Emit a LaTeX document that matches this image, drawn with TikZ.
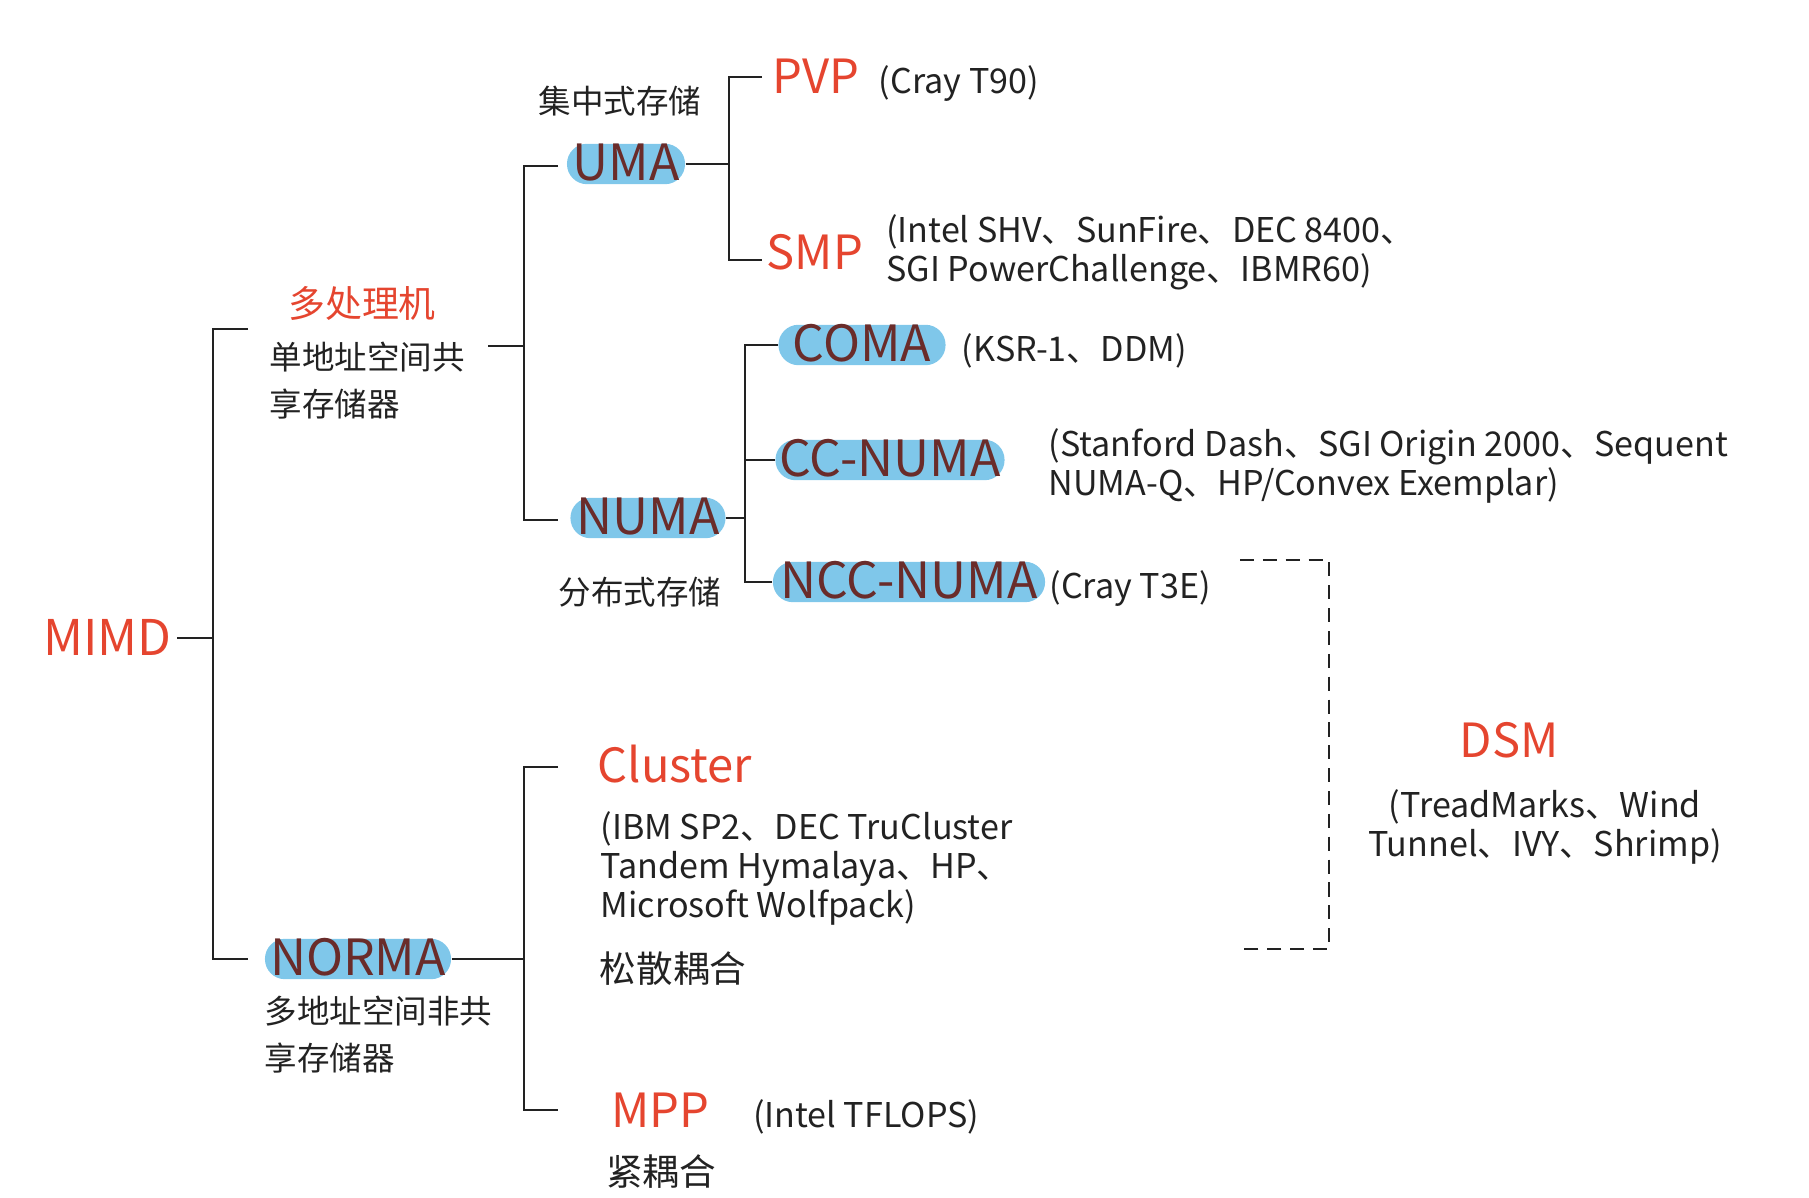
\documentclass[tikz,border=0pt]{standalone}
\usepackage{fontspec}
\setmainfont{Noto Sans CJK SC}
\usetikzlibrary{positioning}
\definecolor{mRed}{HTML}{E5452F}
\definecolor{mBlue}{HTML}{7FC7EA}
\definecolor{mBrown}{HTML}{6A2C2A}
\definecolor{mDark}{HTML}{222222}
\tikzset{
  tree/.style={line width=0.6pt, draw=mDark},
  dsmline/.style={line width=0.5pt, draw=mDark, dash pattern=on 4pt off 2.5pt},
  rlabel/.style={text=mRed, font=\fontsize{13.4}{16}\selectfont, inner sep=0pt},
  pill/.style={rectangle, rounded corners=5.7pt, fill=mBlue, text=mBrown, font=\fontsize{14.2}{17}\selectfont, text height=9.4pt, text depth=0pt, inner xsep=0pt, inner ysep=1.05pt},
  note/.style={text=mDark, font=\fontsize{9.7}{11.1}\selectfont, align=left, inner sep=0pt},
  cnote/.style={text=mDark, font=\fontsize{9.25}{13.4}\selectfont, align=left, inner sep=0pt},
  cnred/.style={text=mRed, font=\fontsize{10.5}{12}\selectfont, inner sep=0pt},
  cbig/.style={text=mDark, font=\fontsize{10.4}{12}\selectfont, inner sep=0pt}
}

\begin{document}
\begin{tikzpicture}[x=0.01cm, y=-0.01cm]
  \useasboundingbox (0,0) rectangle (1809,1198);

  % root
  \node[rlabel, font=\fontsize{14}{16}\selectfont, anchor=base east] (mimd) at (172,656) {MIMD};

  % shared address space
  \node[cnred] (mp) at (362,303) {多处理机};
  \node[cnote, anchor=west] (mpdesc) at (269,381) {单地址空间共\\享存储器};
  \node[pill, minimum width=1.18cm] (uma) at (626,164) {UMA};
  \node[cnote] (umadesc) at (620,101) {集中式存储};
  \node[rlabel, anchor=base west] (pvp) at (772,94) {PVP};
  \node[note, right=0.18cm of pvp.base east, anchor=base west] (pvpnote) {(Cray T90)};
  \node[rlabel, anchor=base west] (smp) at (766,270) {SMP};
  \node[note, right=0.22cm of smp] (smpnote) {(Intel SHV、SunFire、DEC 8400、\\SGI PowerChallenge、IBMR60)};
  \node[pill, minimum width=1.55cm] (numa) at (648,518) {NUMA};
  \node[cnote] (numadesc) at (640,592) {分布式存储};
  \node[pill, minimum width=1.67cm] (coma) at (862,345) {COMA};
  \node[note, right=0.15cm of coma.base east, anchor=base west] (comanote) {(KSR-1、DDM)};
  \node[pill, minimum width=2.29cm] (ccnuma) at (890,460) {CC-NUMA};
  \node[note, anchor=west] (ccnote) at (1048,466) {(Stanford Dash、SGI Origin 2000、Sequent\\NUMA-Q、HP/Convex Exemplar)};
  \node[pill, minimum width=2.72cm] (ncc) at (909,582) {NCC-NUMA};
  \node[note, right=0.03cm of ncc.base east, anchor=base west] (nccnote) {(Cray T3E)};

  % distributed address space
  \node[pill, minimum width=1.86cm] (norma) at (358,959) {NORMA};
  \node[cnote, anchor=west] (normadesc) at (264,1035) {多地址空间非共\\享存储器};
  \node[rlabel, anchor=base west] (cluster) at (597,783) {Cluster};
  \node[note, anchor=west] (clusternote) at (600,868) {(IBM SP2、DEC TruCluster\\Tandem Hymalaya、HP、\\Microsoft Wolfpack)};
  \node[cbig] (loose) at (673,969) {松散耦合};
  \node[rlabel, anchor=base west] (mpp) at (611,1127) {MPP};
  \node[note, right=0.42cm of mpp.base east, anchor=base west] (mppnote) {(Intel TFLOPS)};
  \node[cbig] (tight) at (661,1172) {紧耦合};

  % DSM
  \node[rlabel, anchor=base] (dsm) at (1509,758) {DSM};
  \node[note, align=center] (dsmnote) at (1545,827) {(TreadMarks、Wind\\Tunnel、IVY、Shrimp)};

  % bus points and free ends
  \coordinate (mimdbus) at (213,639);
  \coordinate (mpend) at (248,329);
  \coordinate (normaend) at (248,959);
  \coordinate (mpout) at (488,346);
  \coordinate (smbus) at (524,346);
  \coordinate (umaend) at (558,166);
  \coordinate (numaend) at (558,520);
  \coordinate (umabus) at (729,167);
  \coordinate (pvpend) at (762,77);
  \coordinate (smpend) at (762,260);
  \coordinate (numabus) at (745,518);
  \coordinate (normabus) at (524,959);
  \coordinate (clusterend) at (558,767);
  \coordinate (mppend) at (558,1110);
  \coordinate (dsmtop) at (1240,560);
  \coordinate (dsmbot) at (1240,949);

  \draw[tree, shorten <=1.5pt] (mimd.east) -- (mimd.east -| mimdbus);
  \draw[tree] (mpend) -- (mpend -| mimdbus) -- (normaend -| mimdbus) -- (normaend);
  \draw[tree] (mpout) -- (smbus);
  \draw[tree] (umaend) -- (umaend -| smbus) -- (numaend -| smbus) -- (numaend);
  \draw[tree] (uma.east) -- (uma.east -| umabus);
  \draw[tree] (pvpend) -- (pvpend -| umabus) -- (smpend -| umabus) -- (smpend);
  \draw[tree] (numa.east) -- (numabus);
  \draw[tree] (coma.west) -| (numabus);
  \draw[tree] (ccnuma.west) -- (ccnuma.west -| numabus);
  \draw[tree] (ncc.west) -| (numabus);
  \draw[tree] (norma.east) -- (norma.east -| normabus);
  \draw[tree] (clusterend) -- (clusterend -| normabus) -- (mppend -| normabus) -- (mppend);
  \draw[dsmline] (dsmtop) -- ++(89,0) |- (dsmbot);
\end{tikzpicture}
\end{document}
